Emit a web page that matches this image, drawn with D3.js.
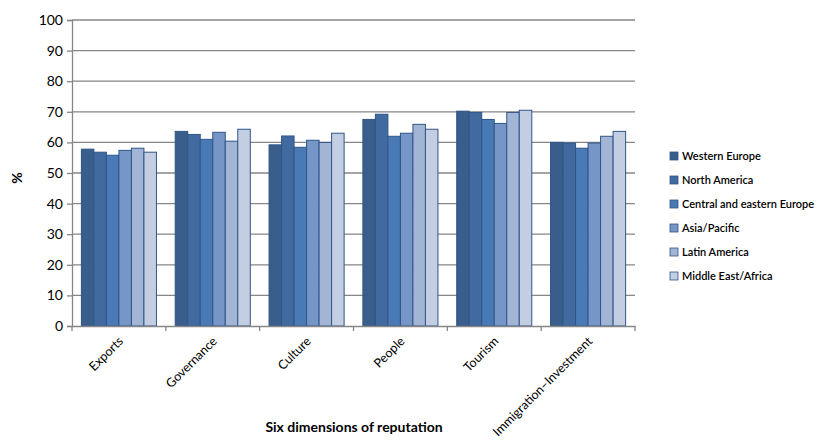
<!DOCTYPE html>
<html>
<head>
<meta charset="utf-8">
<script src="https://cdnjs.cloudflare.com/ajax/libs/d3/7.8.5/d3.min.js"></script>
<style>
body{margin:0;background:#fff;}
text{font-family:Lato,"Noto Sans",sans-serif;fill:#000;}
</style>
</head>
<body>
<div id="plot"></div>
<script>
// chart data
var dimensions = ['Exports','Governance','Culture','People','Tourism','Immigration\u2013Investment'];
var regions = ['Western Europe','North America','Central and eastern Europe','Asia/Pacific','Latin America','Middle East/Africa'];
var westernEurope = [57.8,63.6,59.2,67.5,70.2,60.0];
var northAmerica  = [56.8,62.6,62.1,69.2,69.8,59.8];
var centralEurope = [55.8,61.0,58.4,62.0,67.5,58.1];
var asiaPacific   = [57.4,63.3,60.7,63.0,66.2,59.8];
var latinAmerica  = [58.1,60.4,60.0,65.9,69.8,62.0];
var middleEast    = [56.8,64.3,63.0,64.3,70.5,63.6];
var yTicks = [0,10,20,30,40,50,60,70,80,90,100];

var series = [westernEurope,northAmerica,centralEurope,asiaPacific,latinAmerica,middleEast];
var colors = ['#395e8b','#416ba0','#4a7ab5','#7596c6','#a3b5d5','#c3cee2'];

var W = 826, H = 448;
var margin = {t:20,r:191,b:122,l:72};
var width = W-margin.l-margin.r, height = H-margin.t-margin.b;

var svg = d3.select('#plot').append('svg')
	.attr('width',W).attr('height',H);
var plot = svg.append('g')
	.attr('transform','translate('+margin.l+','+margin.t+')');

var x = d3.scaleBand().domain(dimensions).range([0,width]).paddingInner(0.2).paddingOuter(0.1);
var x0 = d3.scaleBand().domain(dimensions).range([0,width]);
var xs = d3.scaleBand().domain(regions).range([0,x.bandwidth()]);
var y = d3.scaleLinear().domain([0,100]).range([height,0]);

// gridlines
plot.selectAll('.grid').data(yTicks.slice(1)).enter().append('line')
	.attr('x1',0).attr('x2',width)
	.attr('y1',function(d){return y(d);}).attr('y2',function(d){return y(d);})
	.attr('stroke','#868686').attr('stroke-width',1.3);

// bars
var groups = plot.selectAll('.grp').data(dimensions).enter().append('g')
	.attr('transform',function(d){return 'translate('+x(d)+',0)';});
groups.selectAll('rect').data(function(d,i){
		return series.map(function(s,j){return {r:regions[j],v:s[i],c:colors[j]};});
	}).enter().append('rect')
	.attr('x',function(d){return xs(d.r);})
	.attr('y',function(d){return y(d.v);})
	.attr('width',xs.bandwidth())
	.attr('height',function(d){return height-y(d.v);})
	.attr('fill',function(d){return d.c;})
	.attr('stroke','#2f5588').attr('stroke-width',1);

// y axis
var yAxis = plot.append('g').call(d3.axisLeft(y).tickValues(yTicks).tickSize(5).tickPadding(4));
yAxis.select('.domain').attr('stroke','#868686').attr('stroke-width',1.3);
yAxis.selectAll('.tick line').attr('stroke','#868686').attr('stroke-width',1.3);
yAxis.selectAll('text').style('font-size','14px').attr('font-family','Lato,"Noto Sans",sans-serif');

// x axis
var xAxis = plot.append('g').attr('transform','translate(0,'+height+')')
	.call(d3.axisBottom(x0).tickSize(0).tickFormat(''));
xAxis.select('.domain').attr('stroke','#868686').attr('stroke-width',1.3);
var bounds = [0].concat(dimensions.map(function(d){return x0(d)+x0.bandwidth();}));
xAxis.selectAll('.sep').data(bounds).enter().append('line')
	.attr('x1',function(d){return d;}).attr('x2',function(d){return d;})
	.attr('y1',0).attr('y2',5).attr('stroke','#868686').attr('stroke-width',1.3);
xAxis.selectAll('.lbl').data(dimensions).enter().append('text')
	.attr('transform',function(d){return 'translate('+(x0(d)+x0.bandwidth()/2+5)+',16) rotate(-45)';})
	.attr('text-anchor','end')
	.style('font-size','12.5px')
	.text(function(d){return d;});

// axis titles
svg.append('text')
	.attr('transform','translate(22,178) rotate(-90)')
	.attr('text-anchor','middle')
	.style('font-size','14px').style('font-weight','bold')
	.text('%');
svg.append('text')
	.attr('x',354).attr('y',432)
	.attr('text-anchor','middle')
	.style('font-size','14px').style('font-weight','bold')
	.text('Six dimensions of reputation');

// legend
var legend = svg.selectAll('.leg').data(regions).enter().append('g')
	.attr('transform',function(d,i){return 'translate(670,'+(152+i*24)+')';});
legend.append('rect')
	.attr('width',8).attr('height',8)
	.attr('fill',function(d,i){return colors[i];})
	.attr('stroke','#2f5588').attr('stroke-width',0.8);
legend.append('text')
	.attr('x',12).attr('y',8)
	.style('font-size','11px').style('font-weight','600')
	.text(function(d){return d;});
</script>
</body>
</html>
